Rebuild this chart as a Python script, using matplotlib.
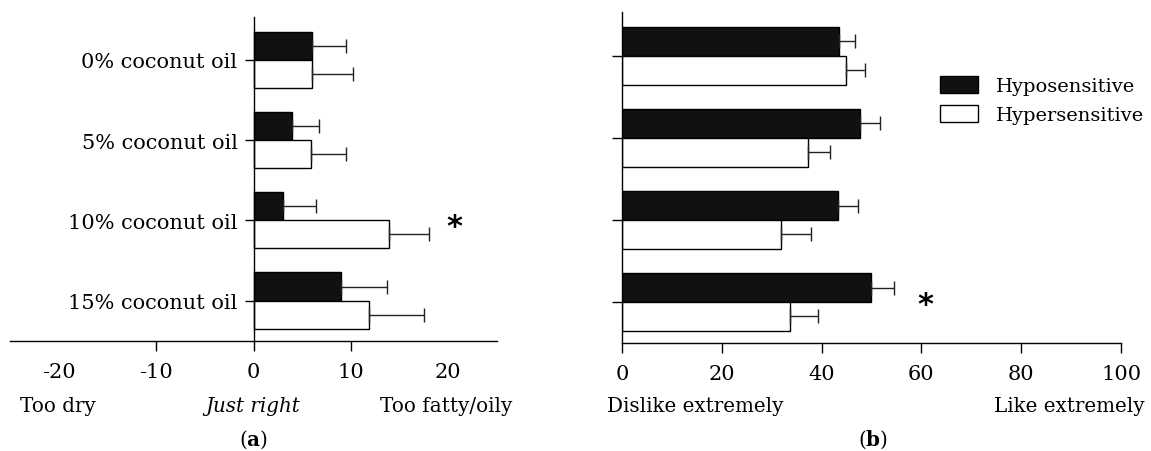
import numpy as np
import matplotlib
matplotlib.use('Agg')
import matplotlib.pyplot as plt

plt.rcParams['font.family'] = 'DejaVu Serif'
plt.rcParams['mathtext.fontset'] = 'dejavuserif'
plt.rcParams['font.size'] = 15
plt.rcParams['axes.unicode_minus'] = False

# data
labels = ['0% coconut oil', '5% coconut oil', '10% coconut oil', '15% coconut oil']
series = ['Hyposensitive', 'Hypersensitive']

fat_hypo = [6.0, 4.0, 3.0, 9.0]
fat_hypo_err = [3.5, 2.7, 3.4, 4.7]
fat_hyper = [6.0, 5.9, 13.9, 11.9]
fat_hyper_err = [4.2, 3.6, 4.1, 5.6]

like_hypo = [43.4, 47.7, 43.2, 49.9]
like_hypo_err = [3.3, 4.1, 4.1, 4.7]
like_hyper = [44.9, 37.2, 31.8, 33.6]
like_hyper_err = [3.7, 4.4, 6.0, 5.6]

fat_ticks = [-20, -10, 0, 10, 20]
like_ticks = [0, 20, 40, 60, 80, 100]

W, H = 1151, 452
fig = plt.figure(figsize=(W / 100, H / 100), dpi=100)

y = np.arange(len(labels))
h = 0.35


def draw_pair(ax, v1, e1, v2, e2):
    ax.barh(y - h / 2, v1, height=h, color='#111111', edgecolor='black', linewidth=1.0, zorder=2)
    ax.barh(y + h / 2, v2, height=h, color='white', edgecolor='black', linewidth=1.0, zorder=2)
    ax.errorbar(v1, y - h / 2, xerr=[np.zeros(len(v1)), e1], fmt='none', ecolor='#222222',
                elinewidth=1.0, capsize=5, capthick=1.0, zorder=3)
    ax.errorbar(v2, y + h / 2, xerr=[np.zeros(len(v2)), e2], fmt='none', ecolor='#222222',
                elinewidth=1.0, capsize=5, capthick=1.0, zorder=3)


# (a) fattiness
ax1 = fig.add_axes([10 / W, 1 - 341.7 / H, 487 / W, 323.4 / H])
draw_pair(ax1, fat_hypo, fat_hypo_err, fat_hyper, fat_hyper_err)
ax1.set_xlim(-25, 25)
ax1.set_ylim(3.5, -0.53)
ax1.spines['top'].set_visible(False)
ax1.spines['right'].set_visible(False)
ax1.spines['left'].set_position(('data', 0))
ax1.set_yticks(y)
ax1.set_yticklabels(labels)
ax1.set_xticks(fat_ticks)
ax1.tick_params(axis='y', length=6.5, width=1.0, pad=5)
ax1.tick_params(axis='x', length=7.2, width=1.0, pad=8)
for i in (0, len(fat_ticks) - 1):
    ax1.xaxis.get_major_ticks()[i].tick1line.set_visible(False)
ax1.text(20.6, 2.08, '*', fontsize=22, fontweight='bold', ha='center', va='center',
         family='DejaVu Sans')

# (b) liking
ax2 = fig.add_axes([622 / W, 1 - 344 / H, 499 / W, 330.7 / H])
draw_pair(ax2, like_hypo, like_hypo_err, like_hyper, like_hyper_err)
ax2.set_xlim(0, 100)
ax2.set_ylim(3.5, -0.53)
ax2.spines['top'].set_visible(False)
ax2.spines['right'].set_visible(False)
ax2.set_yticks(y)
ax2.set_yticklabels([])
ax2.set_xticks(like_ticks)
ax2.tick_params(axis='y', length=7, width=1.0)
ax2.tick_params(axis='x', length=7, width=1.0, pad=8)
ax2.text(60.8, 3.03, '*', fontsize=22, fontweight='bold', ha='center', va='center',
         family='DejaVu Sans')

for ax in (ax1, ax2):
    for s in ax.spines.values():
        s.set_linewidth(1.0)

leg = ax2.legend(series, loc='upper left', bbox_to_anchor=(940 / W, 1 - 77 / H),
                 bbox_transform=fig.transFigure, frameon=False, borderpad=0,
                 handlelength=1.95, handleheight=0.95, handletextpad=0.95,
                 labelspacing=0.5, fontsize=14, borderaxespad=0)

# axis descriptors and panel labels
fs = 14.3
fy = 1 - 407 / H
fig.text(58 / W, fy, 'Too dry', ha='center', va='center', fontsize=fs)
fig.text(253 / W, fy, 'Just right', ha='center', va='center', style='italic', fontsize=fs)
fig.text(446 / W, fy, 'Too fatty/oily', ha='center', va='center', fontsize=fs)
fig.text(695 / W, fy, 'Dislike extremely', ha='center', va='center', fontsize=fs)
fig.text(1069 / W, fy, 'Like extremely', ha='center', va='center', fontsize=fs)
py = 1 - 440 / H
fig.text(253 / W, py, r'($\mathbf{a}$)', ha='center', va='center', fontsize=fs)
fig.text(873 / W, py, r'($\mathbf{b}$)', ha='center', va='center', fontsize=fs)

fig.savefig('out.png', dpi=100)
